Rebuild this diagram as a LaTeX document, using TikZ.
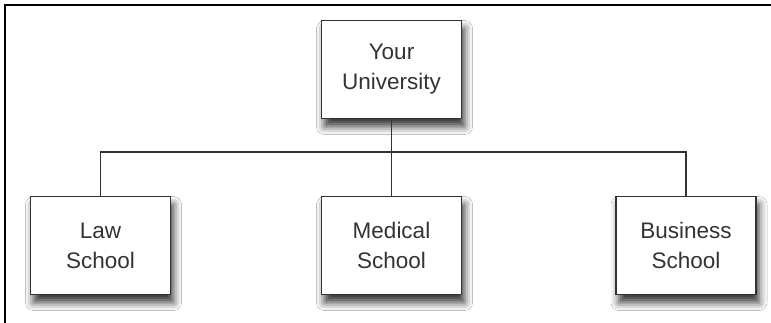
\documentclass[tikz,border=0pt]{standalone}
\usepackage{fontspec}
\setmainfont{Liberation Sans}
\usetikzlibrary{shadows.blur}
\definecolor{boxline}{HTML}{333333}
\definecolor{txt}{HTML}{333333}
\tikzset{
  orgbox/.style={draw=boxline, line width=1.8pt, fill=white, minimum width=140pt, minimum height=98pt,
    inner sep=0pt, align=center, text=txt, font=\fontsize{22.5}{30}\selectfont,
    blur shadow={shadow xshift=3pt, shadow yshift=-8pt, shadow blur radius=8pt, shadow opacity=80}},
  conn/.style={draw=boxline, line width=1.8pt},
  frameline/.style={draw=black, line width=2.2pt}
}
\begin{document}
\begin{tikzpicture}[x=1pt,y=-1pt]
\useasboundingbox (0,0) rectangle (771,323);
\fill[white] (0,0) rectangle (771,323);
\coordinate (fl) at (5,323);
\coordinate (fc) at (5,5);
\coordinate (fr) at (771,5);
\draw[frameline] (fl) -- (fc) -- (fr);
\node[orgbox] (top) at (391.5,69.5) {Your\\University};
\node[orgbox] (law) at (100.5,245.5) {Law\\School};
\node[orgbox] (med) at (391.5,245.5) {Medical\\School};
\node[orgbox] (bus) at (686,245.5) {Business\\School};
\coordinate (hb) at (0,152);
\draw[conn] (top.south) -- (top.south |- hb);
\draw[conn] (law.north) -- (law.north |- hb) -- (bus.north |- hb) -- (bus.north);
\draw[conn] (med.north) -- (med.north |- hb);
\end{tikzpicture}
\end{document}
